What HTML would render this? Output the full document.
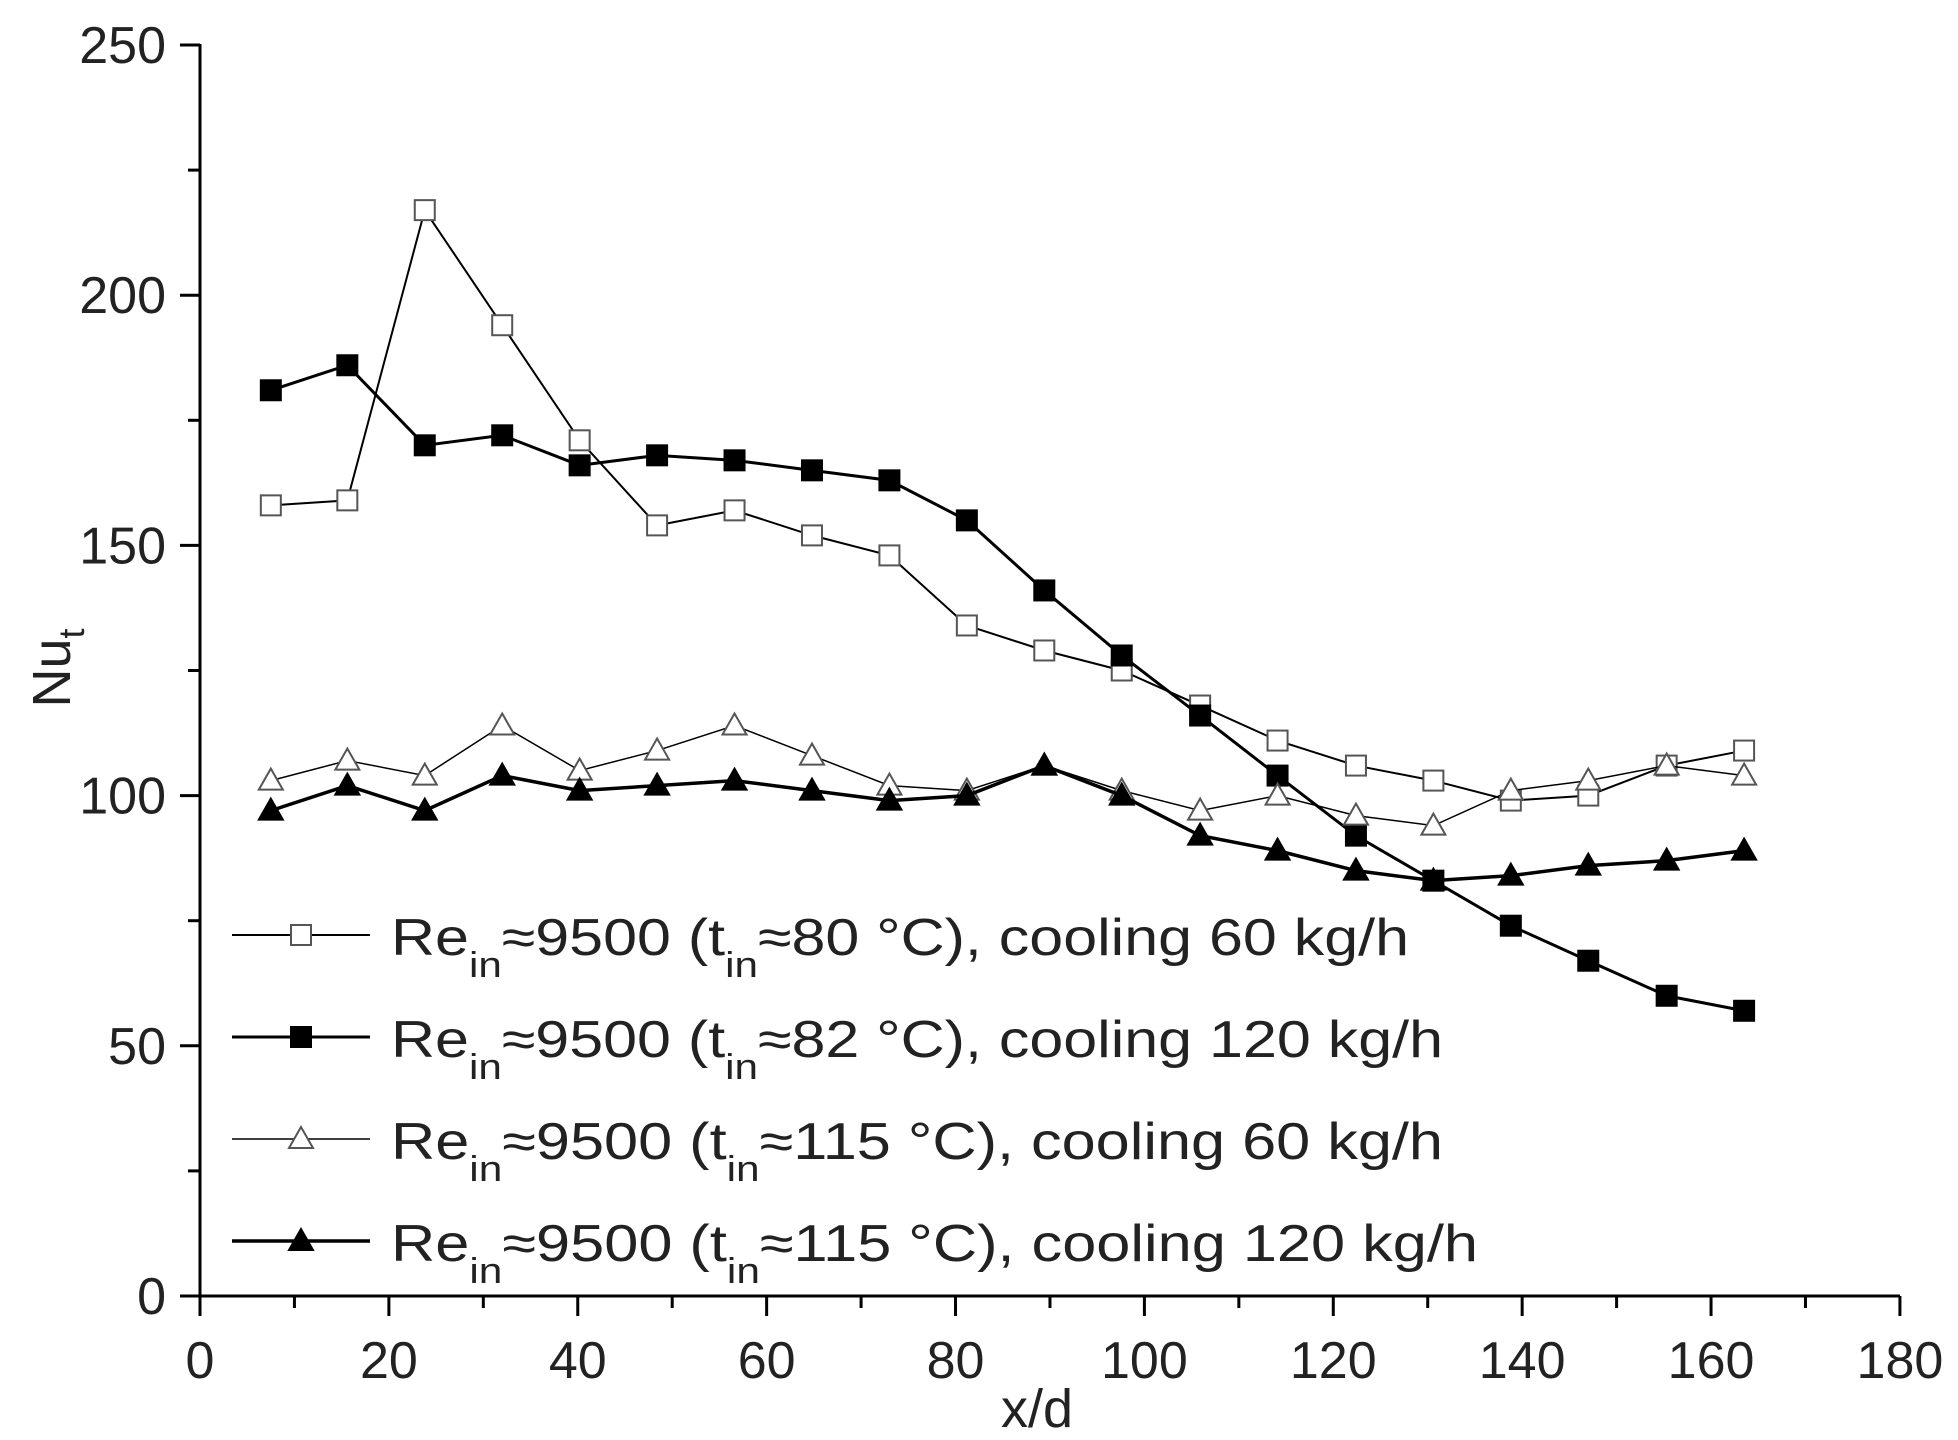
<!DOCTYPE html>
<html><head><meta charset="utf-8"><style>
html,body{margin:0;padding:0;background:#fff;}
svg{display:block;font-family:"Liberation Sans",Arial,sans-serif;}
</style></head><body>
<svg width="1958" height="1440" viewBox="0 0 1958 1440" xmlns="http://www.w3.org/2000/svg">
<rect width="1958" height="1440" fill="#fff"/>
<g stroke="#000" stroke-width="3" fill="none">
<line x1="200" y1="44" x2="200" y2="1296"/>
<line x1="198" y1="1296" x2="1900" y2="1296"/>
</g>
<g id="ticks" stroke="#000" stroke-width="3"></g>
<g id="labels" font-size="52" fill="#222"></g>
<text x="1037" y="1427" font-size="54" text-anchor="middle" fill="#222">x/d</text>
<text transform="translate(70,668) rotate(-90)" font-size="54" text-anchor="middle" fill="#222">Nu<tspan font-size="36" dy="14">t</tspan></text>
<g id="series"></g>
<g id="legend" font-size="52" fill="#222" lengthAdjust="spacingAndGlyphs">
<text x="391" y="955" textLength="1018" lengthAdjust="spacingAndGlyphs">Re<tspan font-size="36" dy="22">in</tspan><tspan dy="-22">≈9500 (t</tspan><tspan font-size="36" dy="22">in</tspan><tspan dy="-22">≈80 °C), cooling 60 kg/h</tspan></text>
<text x="391" y="1057" textLength="1052" lengthAdjust="spacingAndGlyphs">Re<tspan font-size="36" dy="22">in</tspan><tspan dy="-22">≈9500 (t</tspan><tspan font-size="36" dy="22">in</tspan><tspan dy="-22">≈82 °C), cooling 120 kg/h</tspan></text>
<text x="391" y="1159" textLength="1052" lengthAdjust="spacingAndGlyphs">Re<tspan font-size="36" dy="22">in</tspan><tspan dy="-22">≈9500 (t</tspan><tspan font-size="36" dy="22">in</tspan><tspan dy="-22">≈115 °C), cooling 60 kg/h</tspan></text>
<text x="391" y="1261" textLength="1087" lengthAdjust="spacingAndGlyphs">Re<tspan font-size="36" dy="22">in</tspan><tspan dy="-22">≈9500 (t</tspan><tspan font-size="36" dy="22">in</tspan><tspan dy="-22">≈115 °C), cooling 120 kg/h</tspan></text>
</g>
</svg>
<script>
const NS="http://www.w3.org/2000/svg";
const X=v=>200+v*9.444, Y=v=>1296-v*5.004;
function el(p,t,a){const e=document.createElementNS(NS,t);for(const k in a)e.setAttribute(k,a[k]);p.appendChild(e);return e;}
const tk=document.getElementById('ticks'),lb=document.getElementById('labels');
for(let v=0;v<=180;v+=10){const x=X(v);el(tk,'line',{x1:x,y1:1296,x2:x,y2:v%20==0?1316:1308});
 if(v%20==0){const t=el(lb,'text',{x:x,y:1378,'text-anchor':'middle'});t.textContent=v;}}
for(let v=0;v<=250;v+=25){const y=Y(v);el(tk,'line',{x1:200,y1:y,x2:v%50==0?180:188,y2:y});
 if(v%50==0){const t=el(lb,'text',{x:166,y:y+18,'text-anchor':'end'});t.textContent=v;}}
const xs=[7.5,15.6,23.8,32,40.2,48.4,56.6,64.8,73,81.2,89.4,97.6,105.9,114.1,122.4,130.6,138.8,147,155.3,163.5];
const S=[
 {d:[158,159,217,194,171,154,157,152,148,134,129,125,118,111,106,103,99,100,106,109],m:'sq',f:false,w:2},
 {d:[181,186,170,172,166,168,167,165,163,155,141,128,116,104,92,83,74,67,60,57],m:'sq',f:true,w:3},
 {d:[103,107,104,114,105,109,114,108,102,101,106,101,97,100,96,94,101,103,106,104],m:'tr',f:false,w:1.5},
 {d:[97,102,97,104,101,102,103,101,99,100,106,100,92,89,85,83,84,86,87,89],m:'tr',f:true,w:3.5}];
const g=document.getElementById('series');
function mark(p,m,f,x,y){const a={fill:f?'#000':'#fff',stroke:f?'#000':'#555','stroke-width':2};
 if(m=='sq'){a.x=x-10;a.y=y-10;a.width=20;a.height=20;el(p,'rect',a);}
 else{a.points=`${x},${y-12} ${x-12},${y+9} ${x+12},${y+9}`;el(p,'polygon',a);}}
S.forEach((s,i)=>{
 el(g,'polyline',{points:s.d.map((v,j)=>X(xs[j])+','+Y(v)).join(' '),fill:'none',stroke:'#000','stroke-width':s.w});
 s.d.forEach((v,j)=>mark(g,s.m,s.f,X(xs[j]),Y(v)));
 const ly=935+i*102;
 el(g,'line',{x1:232,y1:ly,x2:370,y2:ly,stroke:'#000','stroke-width':s.w});
 mark(g,s.m,s.f,301,ly);
});
</script>
</body></html>
